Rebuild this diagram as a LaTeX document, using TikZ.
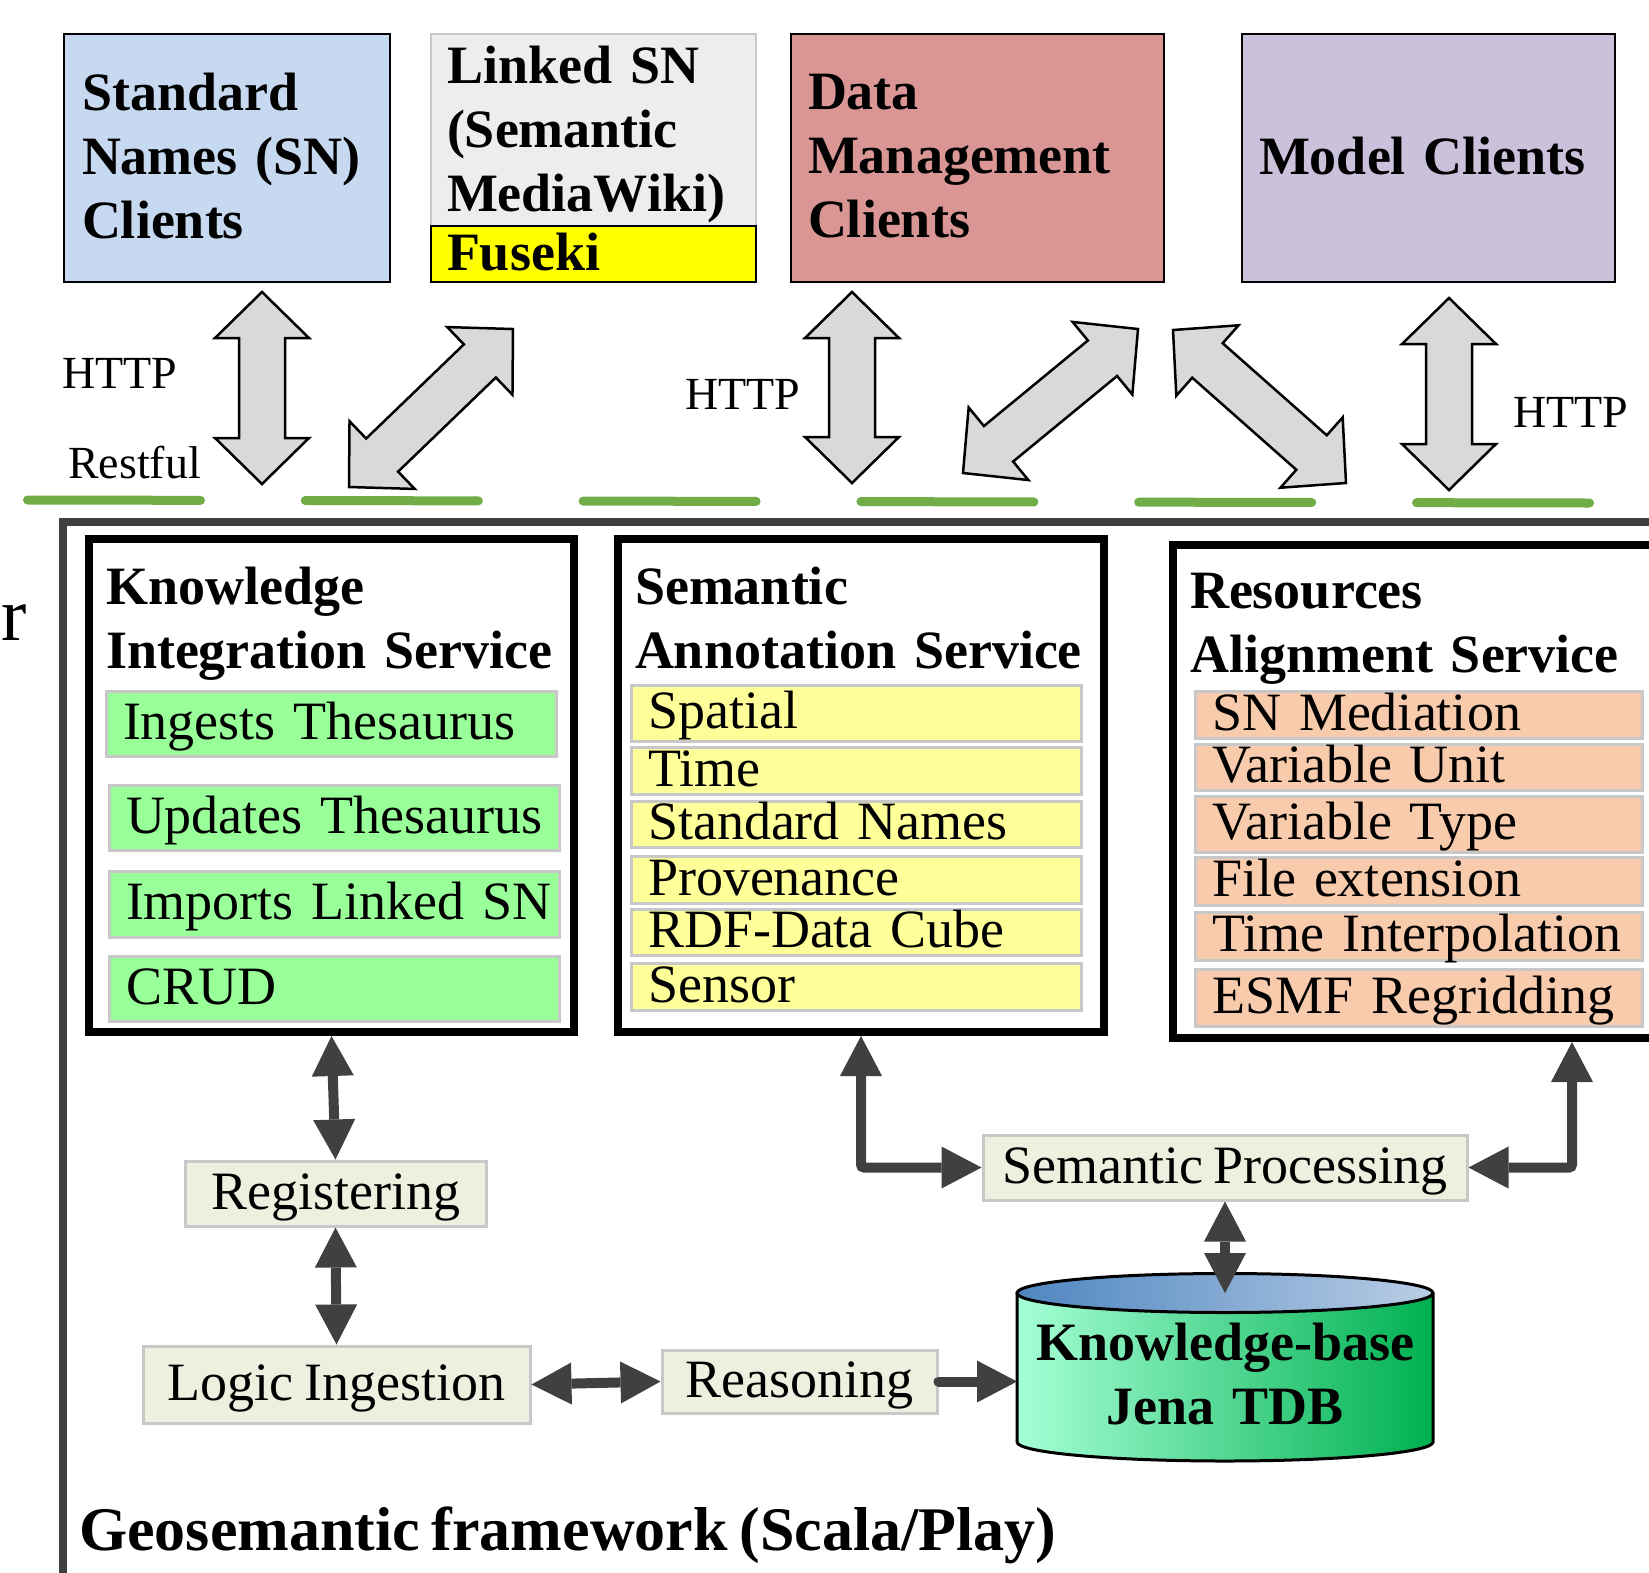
\documentclass[tikz,border=0pt]{standalone}
\usepackage{fontspec}
\setmainfont[WordSpace=0.75]{Liberation Serif}
\usetikzlibrary{arrows.meta,calc}

\definecolor{snblue}{HTML}{C6D9F1}
\definecolor{lsngray}{HTML}{EDEDED}
\definecolor{fusekiyellow}{HTML}{FFFF00}
\definecolor{dmred}{HTML}{D99694}
\definecolor{mclilac}{HTML}{CCC1DA}
\definecolor{kisgreen}{HTML}{99FF99}
\definecolor{sasyellow}{HTML}{FFFF99}
\definecolor{rasorange}{HTML}{F8CBAD}
\definecolor{procgreen}{HTML}{EBF1DE}
\definecolor{itemrule}{HTML}{C8C8C8}
\definecolor{busgreen}{HTML}{70AD47}
\definecolor{blockgray}{HTML}{D9D9D9}
\definecolor{darkline}{HTML}{404040}
\definecolor{kbmint}{HTML}{A6FFD6}
\definecolor{kbgreen}{HTML}{00B050}
\definecolor{kbblue}{HTML}{4F86C0}
\definecolor{kblight}{HTML}{B9CDE5}

\newcommand{\gsclientfont}{\fontsize{54}{64}\selectfont\bfseries}
\newcommand{\gsitemfont}{\fontsize{54}{64}\selectfont}
\newcommand{\gshttpfont}{\fontsize{46}{55}\selectfont}
\newcommand{\gsfootfont}{\fontsize{62}{70}\selectfont\bfseries}
\newcommand{\gscutfont}{\fontsize{76}{80}\selectfont}

% double block arrow between two named points
\newcommand{\gatearrow}[2]{%
  \path let \p1=(#1), \p2=(#2) in \pgfextra{%
    \pgfmathsetmacro{\garotA}{atan2(\y2-\y1,\x2-\x1)}%
    \pgfmathsetmacro{\galenA}{veclen(\x2-\x1,\y2-\y1)}%
    \xdef\garot{\garotA}\xdef\galen{\galenA}%
    \xdef\gax{\x1}\xdef\gay{\y1}};
  \draw[gateshape, shift={(\gax,\gay)}, rotate=\garot]
    (0,0) -- (46,47) -- (46,23) -- ({\galen-46},23) -- ({\galen-46},47)
    -- (\galen,0) -- ({\galen-46},-47) -- ({\galen-46},-23) -- (46,-23)
    -- (46,-47) -- cycle;
}

\begin{document}
\begin{tikzpicture}[x=1pt,y=-1pt,
  clientbox/.style={draw=black, line width=2.5pt, inner ysep=0pt, align=left,
    font=\gsclientfont, outer sep=0pt},
  svcbox/.style={draw=black, line width=8pt, outer sep=4pt, inner sep=0pt},
  svctitle/.style={anchor=north west, inner sep=0pt, outer sep=0pt, align=left,
    text width=470pt, text height=40pt, font=\gsclientfont},
  svcitem/.style={draw=itemrule, line width=3pt, outer sep=1.5pt, inner xsep=17pt,
    inner ysep=0pt, align=left, text height=38pt, text depth=7pt, font=\gsitemfont},
  kisitem/.style={svcitem, fill=kisgreen, text width=416pt},
  sasitem/.style={svcitem, fill=sasyellow, text width=416pt},
  rasitem/.style={svcitem, fill=rasorange, text width=413pt},
  procbox/.style={draw=itemrule, fill=procgreen, line width=3pt, outer sep=1.5pt,
    inner sep=0pt, text height=38pt, text depth=7pt, font=\gsitemfont},
  linklabel/.style={anchor=base west, inner sep=0pt, outer sep=0pt, font=\gshttpfont},
  gateshape/.style={fill=blockgray, draw=black, line width=2.5pt, line join=miter},
  bus/.style={draw=busgreen, line width=9pt, line cap=round,
    dash pattern=on 173pt off 104.8pt},
  frame/.style={draw=darkline, line width=8pt, line join=miter},
  flow/.style={draw=darkline, line width=10pt,
    >={Triangle[length=40pt,width=42pt,line width=0pt]}},
]
\useasboundingbox (0,0) rectangle (1649,1572);
\fill[white] (0,0) rectangle (1649,1572);

% ---------- client applications ----------
\node[clientbox, fill=snblue, text width=290pt, inner xsep=18pt,
  minimum height=248pt, text height=39pt, text depth=135pt]
  (sn) at (227,158) {Standard\\Names (SN)\\Clients};
\node[clientbox, draw=itemrule, fill=lsngray, text width=293pt, inner xsep=16pt,
  minimum height=192pt, text height=42pt, text depth=136pt]
  (lsn) at (593.5,130) {Linked SN\\(Semantic\\MediaWiki)};
\node[clientbox, fill=fusekiyellow, text width=293pt, inner xsep=16pt,
  minimum height=56pt, text height=39pt, text depth=7pt]
  (fuseki) at (593.5,254) {Fuseki};
\node[clientbox, fill=dmred, text width=339pt, inner xsep=17pt,
  minimum height=248pt, text height=38pt, text depth=136pt]
  (dm) at (977.5,158) {Data\\Management\\Clients};
\node[clientbox, fill=mclilac, text width=339pt, inner xsep=17pt,
  minimum height=248pt, text height=39pt, text depth=7pt]
  (mc) at (1428.5,158) {Model Clients};

% ---------- HTTP gateway arrows ----------
\coordinate (g1a) at (262,292);  \coordinate (g1b) at (262,484);
\coordinate (g2a) at (349,487);  \coordinate (g2b) at (513,329);
\coordinate (g3a) at (852,292);  \coordinate (g3b) at (852,483);
\coordinate (g4a) at (963,473);  \coordinate (g4b) at (1138,329);
\coordinate (g5a) at (1173,330); \coordinate (g5b) at (1346,483);
\coordinate (g6a) at (1449,298); \coordinate (g6b) at (1449,490);
\gatearrow{g1a}{g1b}
\gatearrow{g2a}{g2b}
\gatearrow{g3a}{g3b}
\gatearrow{g4a}{g4b}
\gatearrow{g5a}{g5b}
\gatearrow{g6a}{g6b}

\node[linklabel] (http1) at (62,388) {HTTP};
\node[linklabel] (restful) at (68,478) {Restful};
\node[linklabel] (http2) at (685.5,409) {HTTP};
\node[linklabel] (http3) at (1513,427) {HTTP};

% ---------- service bus ----------
\coordinate (busw) at (27.5,500);
\coordinate (buse) at (1589.5,503);
\draw[bus] (busw) -- (buse);

% ---------- framework boundary ----------
\coordinate (fr1) at (63,1620);
\coordinate (fr2) at (63,522);
\coordinate (fr3) at (1700,522);
\draw[frame] (fr1) -- (fr2) -- (fr3);
\node[anchor=base west, inner sep=0pt, font=\gscutfont] (cut) at (1,640) {r};

% ---------- services ----------
\node[svcbox, minimum width=485pt, minimum height=493pt] (kis) at (331.5,785.5) {};
\node[svcbox, minimum width=486pt, minimum height=493pt] (sas) at (861,785.5) {};
\node[svcbox, minimum width=527pt, minimum height=493pt] (ras) at (1436.5,791.5) {};

\node[svctitle] (kistitle) at (106,564) {Knowledge\\Integration Service};
\node[svctitle] (sastitle) at (635,564) {Semantic\\Annotation Service};
\node[svctitle] (rastitle) at (1190,568) {Resources\\Alignment Service};

\node[kisitem, minimum height=65pt] (ingest) at (331,723.5) {\mbox{Ingests Thesaurus}};
\node[kisitem, minimum height=65pt] (update) at (334,817.5) {\mbox{Updates Thesaurus}};
\node[kisitem, minimum height=66pt] (import) at (334,904) {\mbox{Imports Linked SN}};
\node[kisitem, minimum height=65pt] (crud) at (334,988.5) {\mbox{CRUD}};

\node[sasitem, minimum height=56pt] (spatial) at (856,713) {\mbox{Spatial}};
\node[sasitem, minimum height=47pt] (time) at (856,770.5) {\mbox{Time}};
\node[sasitem, minimum height=46pt] (stdnames) at (856,824) {\mbox{Standard Names}};
\node[sasitem, minimum height=47pt] (prov) at (856,879.5) {\mbox{Provenance}};
\node[sasitem, minimum height=46pt] (cube) at (856,932) {\mbox{RDF-Data Cube}};
\node[sasitem, minimum height=47pt] (sensor) at (856,986.5) {\mbox{Sensor}};

\node[rasitem, minimum height=47pt] (snmed) at (1418.5,714.5) {\mbox{SN Mediation}};
\node[rasitem, minimum height=46pt] (varunit) at (1418.5,767) {\mbox{Variable Unit}};
\node[rasitem, minimum height=56pt] (vartype) at (1418.5,824) {\mbox{Variable Type}};
\node[rasitem, minimum height=48pt] (fileext) at (1418.5,881) {\mbox{File extension}};
\node[rasitem, minimum height=48pt] (interp) at (1418.5,936) {\mbox{Time Interpolation}};
\node[rasitem, minimum height=57pt] (regrid) at (1418.5,997.5) {\mbox{ESMF Regridding}};

% ---------- processing ----------
\node[procbox, minimum width=301pt, minimum height=65pt] (reg) at (335.5,1193.5) {Registering};
\node[procbox, minimum width=387pt, minimum height=77pt] (logic) at (336.5,1384.5) {Logic Ingestion};
\node[procbox, minimum width=275pt, minimum height=63pt] (reason) at (799.5,1381.5) {Reasoning};
\node[procbox, minimum width=484pt, minimum height=65pt] (semproc) at (1225,1167.5) {Semantic Processing};

% ---------- knowledge base (Jena TDB) ----------
\fill[left color=kbmint, right color=kbgreen]
  (1017,1293) -- (1017,1442) arc[start angle=180, end angle=360, x radius=208pt, y radius=19pt]
  -- (1433,1293) -- cycle;
\draw[line width=3pt]
  (1017,1293) -- (1017,1442) arc[start angle=180, end angle=360, x radius=208pt, y radius=19pt]
  -- (1433,1293);
\draw[line width=3pt, left color=kbblue, right color=kblight]
  (1225,1293) ellipse [x radius=208pt, y radius=19.5pt];
\node[anchor=north, inner sep=0pt, text width=400pt, align=center,
  text height=39pt, font=\gsclientfont] (kb) at (1225,1321) {Knowledge-base\\Jena TDB};
\coordinate (kbtop) at (1225,1293);
\coordinate (kbwest) at (1017,1380);
\coordinate (rasfoot) at (1572,1042);

% ---------- internal flows ----------
\draw[flow, <->] (kis.south) -- (reg.north);
\draw[flow, <->] (reg.south) -- (logic.north);
\draw[flow, <->] (logic.east) -- (reason.west);
\draw[flow, ->, line cap=round] (reason.east) -- (reason.east -| kbwest);
\draw[flow, <->] (semproc.south) -- (kbtop);
\draw[flow, <->, rounded corners=3pt] (sas.south) |- (semproc.west);
\draw[flow, <->, rounded corners=3pt] (semproc.east) -| (rasfoot);

% ---------- caption ----------
\node[anchor=base west, inner sep=0pt, font=\gsfootfont] (caption) at (79,1550)
  {Geosemantic framework (Scala/Play)};
\end{tikzpicture}
\end{document}
